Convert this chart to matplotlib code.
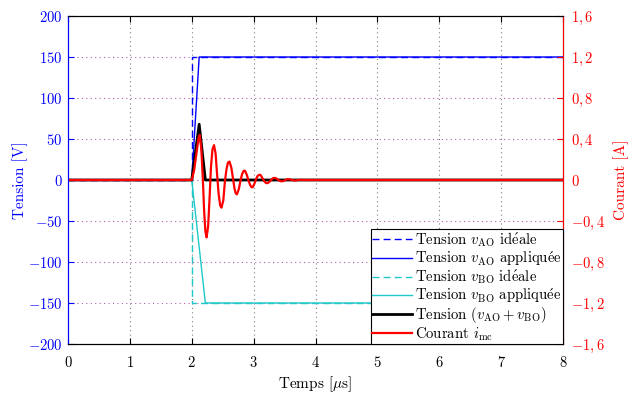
import matplotlib.pyplot as plt
import numpy as np

plt.rcParams.update({
    'font.family': 'serif',
    'font.serif': ['cmr10', 'DejaVu Serif'],
    'mathtext.fontset': 'cm',
    'axes.formatter.use_mathtext': True,
    'xtick.direction': 'in',
    'ytick.direction': 'in',
    'font.size': 10,
})

# ---- data ----
t_ideal = [0, 2.0, 2.0, 8]
v_ao_ideal = [0, 0, 150, 150]
v_bo_ideal = [0, 0, -150, -150]

t_ao = [0, 2.0, 2.12, 8]
v_ao = [0, 0, 150, 150]

t_bo = [0, 2.0, 2.22, 8]
v_bo = [0, 0, -150, -150]

t_sum = [0, 2.0, 2.12, 2.22, 8]
v_sum = [0, 0, 68, 0, 0]

t_i = [0, 2.00, 2.04, 2.08, 2.11, 2.13, 2.155, 2.18, 2.20, 2.22, 2.24, 2.265,
       2.29, 2.31, 2.335, 2.36, 2.385, 2.41, 2.435, 2.46, 2.48, 2.51, 2.535,
       2.56, 2.585, 2.61, 2.64, 2.665, 2.69, 2.71, 2.73, 2.76, 2.79, 2.815,
       2.84, 2.86, 2.89, 2.92, 2.945, 2.965, 2.985, 3.01, 3.04, 3.065, 3.09,
       3.11, 3.14, 3.17, 3.20, 3.23, 3.26, 3.29, 3.32, 3.35, 3.38, 3.41, 3.44,
       3.47, 3.50, 3.53, 3.56, 3.59, 3.62, 3.66, 3.70, 3.75, 3.80, 8.0]
i_mc = [0, 0.0, 0.10, 0.28, 0.41, 0.44, 0.30, 0.0, -0.30, -0.50, -0.56, -0.45,
        -0.15, 0.12, 0.30, 0.34, 0.26, 0.05, -0.14, -0.25, -0.27, -0.20, -0.02,
        0.10, 0.17, 0.18, 0.12, 0.02, -0.08, -0.13, -0.14, -0.09, 0.0, 0.06,
        0.09, 0.09, 0.05, -0.01, -0.05, -0.07, -0.07, -0.04, 0.01, 0.04, 0.05,
        0.05, 0.02, -0.01, -0.03, -0.03, -0.015, 0.005, 0.02, 0.02, 0.01, -0.005,
        -0.012, -0.012, -0.005, 0.005, 0.008, 0.006, 0.0, -0.005, -0.003, 0.002,
        0.0, 0.0]

x_ticks = list(range(0, 9))
v_ticks = list(range(-200, 201, 50))
i_ticks = [-1.6, -1.2, -0.8, -0.4, 0, 0.4, 0.8, 1.2, 1.6]

BLUE = '#0000ff'
CYAN = '#20c8c8'
RED = '#ff0000'


def fr_label(v):
    # LaTeX style: decimal comma in math mode
    return r'$%s$' % ('%g' % v).replace('.', ',')


E_ACUTE = r'$\mathrm{\acute{e}}$'

fig = plt.figure(figsize=(6.41, 3.94), dpi=100)
ax = fig.add_axes([68 / 641, 1 - 344 / 394, (563 - 68) / 641, (344 - 16) / 394])
ax2 = ax.twinx()

l1, = ax.plot(t_ideal, v_ao_ideal, color=BLUE, ls=(0, (5, 3)), lw=1.0,
              label=r'Tension $v_{\mathrm{AO}}$ id' + E_ACUTE + 'ale')
l2, = ax.plot(t_ao, v_ao, color=BLUE, lw=1.0,
              label=r'Tension $v_{\mathrm{AO}}$ appliqu' + E_ACUTE + 'e')
l3, = ax.plot(t_ideal, v_bo_ideal, color=CYAN, ls=(0, (5, 3)), lw=1.0,
              label=r'Tension $v_{\mathrm{BO}}$ id' + E_ACUTE + 'ale')
l4, = ax.plot(t_bo, v_bo, color=CYAN, lw=1.0,
              label=r'Tension $v_{\mathrm{BO}}$ appliqu' + E_ACUTE + 'e')
l5, = ax.plot(t_sum, v_sum, color='black', lw=2.0,
              label=r'Tension $(v_{\mathrm{AO}}+v_{\mathrm{BO}})$')
l6, = ax2.plot(t_i, i_mc, color=RED, lw=1.6,
               label=r'Courant $i_{\mathrm{mc}}$')

ax.set_xlim(0, 8)
ax.set_ylim(-200, 200)
ax2.set_ylim(-1.6, 1.6)

ax.set_xticks(x_ticks)
ax.set_xticklabels([fr_label(v) for v in x_ticks])
ax.set_yticks(v_ticks)
ax.set_yticklabels([fr_label(v) for v in v_ticks])
ax2.set_yticks(i_ticks)
ax2.set_yticklabels([fr_label(v) for v in i_ticks])

# grid
for xv in x_ticks[1:-1]:
    ax.axvline(xv, color='#808080', ls=(0, (1, 3)), lw=0.8, zorder=0)
for yv in v_ticks[1:-1]:
    ax.axhline(yv, color='#b060b0', ls=(0, (1, 3)), lw=0.8, zorder=0)

ax.tick_params(axis='y', colors=BLUE, labelsize=10.5, length=4, pad=4)
ax.tick_params(axis='x', labelsize=10.5, length=4, top=True, pad=8)
ax2.tick_params(axis='y', colors=RED, labelsize=10.5, length=4, pad=6)
ax.spines['left'].set_color(BLUE)
ax2.spines['left'].set_color(BLUE)
ax2.spines['right'].set_color(RED)

ax.set_xlabel(r'Temps [$\mu$s]', fontsize=11, labelpad=3)
ax.set_ylabel('Tension [V]', color=BLUE, fontsize=11, labelpad=0)
ax2.set_ylabel('Courant [A]', color=RED, fontsize=11, labelpad=6)

handles = [l1, l2, l3, l4, l5, l6]
leg = ax2.legend(handles, [h.get_label() for h in handles], loc='lower right',
                 fontsize=10.6, frameon=True, fancybox=False, framealpha=1,
                 edgecolor='black', borderpad=0.1, labelspacing=0.0,
                 handlelength=2.7, handletextpad=0.2, borderaxespad=0.0)
leg.get_frame().set_linewidth(0.8)

fig.savefig('out.png', dpi=100)
